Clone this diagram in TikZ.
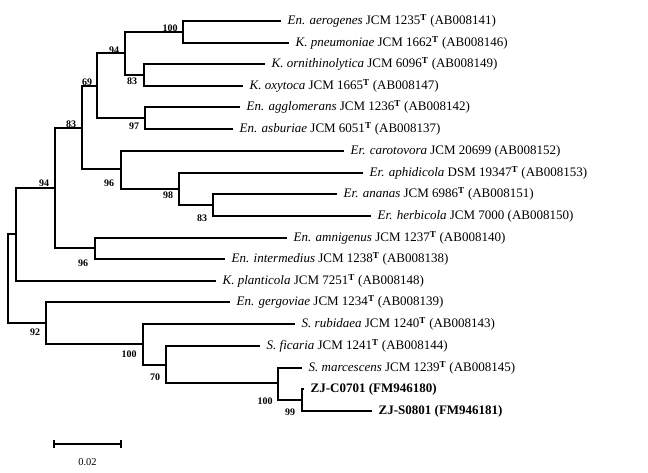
\documentclass[tikz,border=0pt]{standalone}
\usepackage{fontspec}
\setmainfont{Liberation Serif}
\newcommand{\typ}{\textsuperscript{\textbf{T}}}
\begin{document}
\begin{tikzpicture}[x=1pt, y=-1pt, line width=1.4pt,
		leaf/.style={anchor=west, inner xsep=6pt, inner ysep=0pt, font=\fontsize{13}{15}\selectfont},
		boot/.style={inner sep=0pt, font=\fontsize{10}{12}\selectfont\bfseries}]
		\useasboundingbox (0,0) rectangle (648,473);
		
		% Leaves (tips of branches)
		\node[leaf] (aero) at (281,21) {\emph{En. aerogenes} JCM 1235\typ{} (AB008141)};
		\node[leaf] (pneu) at (289,43) {\emph{K. pneumoniae} JCM 1662\typ{} (AB008146)};
		\node[leaf] (orni) at (265,64) {\emph{K. ornithinolytica} JCM 6096\typ{} (AB008149)};
		\node[leaf] (oxyt) at (243,86) {\emph{K. oxytoca} JCM 1665\typ{} (AB008147)};
		\node[leaf] (aggl) at (240,107) {\emph{En. agglomerans} JCM 1236\typ{} (AB008142)};
		\node[leaf] (asbu) at (233,129) {\emph{En. asburiae} JCM 6051\typ{} (AB008137)};
		\node[leaf] (caro) at (344,151) {\emph{Er. carotovora} JCM 20699 (AB008152)};
		\node[leaf] (aphi) at (363,173) {\emph{Er. aphidicola} DSM 19347\typ{} (AB008153)};
		\node[leaf] (anan) at (337,194) {\emph{Er. ananas} JCM 6986\typ{} (AB008151)};
		\node[leaf] (herb) at (371,216) {\emph{Er. herbicola} JCM 7000 (AB008150)};
		\node[leaf] (amni) at (287,238) {\emph{En. amnigenus} JCM 1237\typ{} (AB008140)};
		\node[leaf] (inte) at (225,259) {\emph{En. intermedius} JCM 1238\typ{} (AB008138)};
		\node[leaf] (plan) at (216,281) {\emph{K. planticola} JCM 7251\typ{} (AB008148)};
		\node[leaf] (gerg) at (230,302) {\emph{En. gergoviae} JCM 1234\typ{} (AB008139)};
		\node[leaf] (rubi) at (295,324) {\emph{S. rubidaea} JCM 1240\typ{} (AB008143)};
		\node[leaf] (fica) at (260,346) {\emph{S. ficaria} JCM 1241\typ{} (AB008144)};
		\node[leaf] (marc) at (302,368) {\emph{S. marcescens} JCM 1239\typ{} (AB008145)};
		\node[leaf, font=\fontsize{13}{15}\selectfont\bfseries] (zjc) at (304,389) {ZJ-C0701 (FM946180)};
		\node[leaf, font=\fontsize{13}{15}\selectfont\bfseries] (zjs) at (372,411) {ZJ-S0801 (FM946181)};
		
		% Internal nodes
		\coordinate (root) at (8,278.5);
		\coordinate (bpl) at (16,234);
		\coordinate (b94b) at (55,188);
		\coordinate (b83b) at (82,128);
		\coordinate (b69) at (97,86);
		\coordinate (b94a) at (125,53);
		\coordinate (b100a) at (183,32);
		\coordinate (b83a) at (144,75);
		\coordinate (b97) at (145,118);
		\coordinate (b96a) at (121,169);
		\coordinate (b98) at (179,189);
		\coordinate (b83c) at (213,205);
		\coordinate (b96b) at (95,248);
		\coordinate (b92) at (46,323);
		\coordinate (b100b) at (143,344);
		\coordinate (b70) at (166,365);
		\coordinate (b100c) at (278,383);
		\coordinate (b99) at (302,400);
		
		% Branches
		\draw (root) |- (bpl);
		\draw (root) |- (b92);
		\draw (bpl) |- (b94b);
		\draw (bpl) |- (plan.west);
		\draw (b94b) |- (b83b);
		\draw (b94b) |- (b96b);
		\draw (b83b) |- (b69);
		\draw (b83b) |- (b96a);
		\draw (b69) |- (b94a);
		\draw (b69) |- (b97);
		\draw (b94a) |- (b100a);
		\draw (b94a) |- (b83a);
		\draw (b100a) |- (aero.west);
		\draw (b100a) |- (pneu.west);
		\draw (b83a) |- (orni.west);
		\draw (b83a) |- (oxyt.west);
		\draw (b97) |- (aggl.west);
		\draw (b97) |- (asbu.west);
		\draw (b96a) |- (caro.west);
		\draw (b96a) |- (b98);
		\draw (b98) |- (aphi.west);
		\draw (b98) |- (b83c);
		\draw (b83c) |- (anan.west);
		\draw (b83c) |- (herb.west);
		\draw (b96b) |- (amni.west);
		\draw (b96b) |- (inte.west);
		\draw (b92) |- (gerg.west);
		\draw (b92) |- (b100b);
		\draw (b100b) |- (rubi.west);
		\draw (b100b) |- (b70);
		\draw (b70) |- (fica.west);
		\draw (b70) |- (b100c);
		\draw (b100c) |- (marc.west);
		\draw (b100c) |- (b99);
		\draw (b99) |- (zjc.west);
		\draw (b99) |- (zjs.west);
		
		% Bootstrap values
		\node[boot] at (170,28) {100};
		\node[boot] at (114,50) {94};
		\node[boot] at (132,81) {83};
		\node[boot] at (134,126) {97};
		\node[boot] at (87,82) {69};
		\node[boot] at (71,124) {83};
		\node[boot] at (109,183) {96};
		\node[boot] at (168,195) {98};
		\node[boot] at (202,218) {83};
		\node[boot] at (44,183) {94};
		\node[boot] at (83,263) {96};
		\node[boot] at (35,332) {92};
		\node[boot] at (129,354) {100};
		\node[boot] at (155,377) {70};
		\node[boot] at (265,401) {100};
		\node[boot] at (290,412) {99};
		
		% Scale bar
		\coordinate (sb1) at (54,444);
		\coordinate (sb2) at (121,444);
		\draw (sb1) -- (sb2);
		\draw ([yshift=-4pt]sb1) -- ([yshift=4pt]sb1);
		\draw ([yshift=-4pt]sb2) -- ([yshift=4pt]sb2);
		\node[font=\fontsize{10.5}{12}\selectfont] (sblab) at (87.5,462) {0.02};
	\end{tikzpicture}
\end{document}
